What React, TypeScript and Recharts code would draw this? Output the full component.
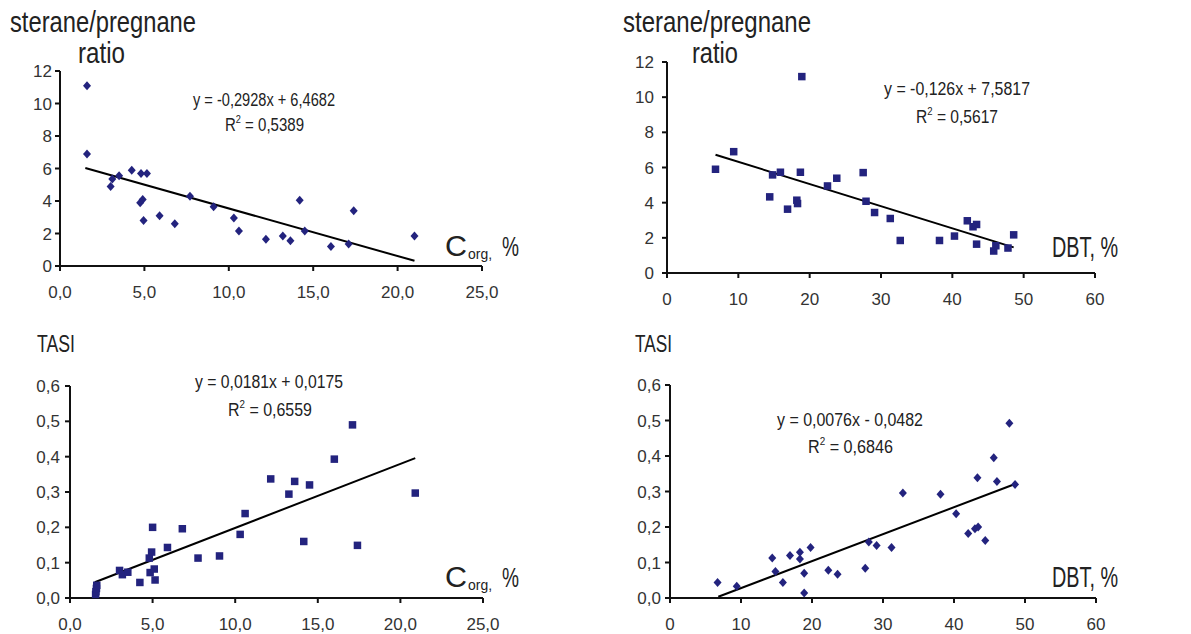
import React from 'react';
import { ScatterChart, Scatter, XAxis, YAxis, ReferenceLine } from 'recharts';

const markerColor = '#23237e';
const textColor = '#222';
const font = '"Liberation Sans", Arial, sans-serif';

// Corg, % vs sterane/pregnane ratio
const corgA: number[] = [1.6, 1.6, 3.0, 3.1, 3.5, 4.25, 4.8, 5.15, 4.75, 4.9, 4.95, 5.9, 6.8, 7.7, 9.1, 10.3, 10.6, 12.2, 13.2, 13.65, 14.2, 14.5, 16.05, 17.1, 17.4, 21.0];
const ratioA: number[] = [11.1, 6.9, 4.9, 5.35, 5.55, 5.9, 5.7, 5.7, 3.9, 4.1, 2.8, 3.1, 2.6, 4.3, 3.65, 2.95, 2.15, 1.65, 1.85, 1.55, 4.05, 2.15, 1.2, 1.35, 3.4, 1.85];

// DBT, % vs sterane/pregnane ratio
const dbtA: number[] = [6.8, 9.35, 14.4, 14.8, 15.9, 16.9, 18.2, 18.3, 18.7, 18.9, 22.5, 23.8, 27.5, 27.9, 29.1, 31.3, 32.7, 38.2, 40.3, 42.1, 42.9, 43.4, 43.4, 45.8, 46.1, 47.8, 48.6];
const ratioB: number[] = [5.9, 6.9, 4.33, 5.58, 5.73, 3.63, 4.14, 3.95, 5.73, 11.17, 4.95, 5.39, 5.71, 4.08, 3.44, 3.1, 1.85, 1.85, 2.1, 2.97, 2.63, 2.76, 1.64, 1.25, 1.55, 1.42, 2.17];

// Corg, % vs TASI
const corgB: number[] = [1.55, 1.57, 1.6, 1.62, 3.0, 3.17, 3.5, 4.23, 4.8, 4.94, 5.0, 4.85, 5.1, 5.15, 5.9, 6.8, 7.75, 9.05, 10.3, 10.6, 12.15, 13.25, 13.6, 14.15, 14.5, 16.0, 17.1, 17.4, 20.9];
const tasiA: number[] = [0.01, 0.018, 0.027, 0.036, 0.078, 0.066, 0.073, 0.044, 0.113, 0.13, 0.2, 0.072, 0.082, 0.051, 0.143, 0.196, 0.113, 0.119, 0.18, 0.239, 0.337, 0.294, 0.33, 0.16, 0.32, 0.393, 0.49, 0.149, 0.297];

// DBT, % vs TASI
const dbtB: number[] = [6.7, 9.4, 14.4, 14.85, 15.9, 16.9, 18.3, 18.3, 18.9, 18.9, 19.8, 22.3, 23.6, 27.5, 28.0, 29.1, 31.2, 32.8, 38.1, 40.3, 42.0, 42.95, 43.4, 43.3, 44.4, 45.6, 46.05, 47.8, 48.6];
const tasiB: number[] = [0.044, 0.033, 0.113, 0.075, 0.044, 0.12, 0.129, 0.11, 0.07, 0.014, 0.142, 0.078, 0.067, 0.084, 0.158, 0.148, 0.142, 0.296, 0.292, 0.237, 0.182, 0.195, 0.2, 0.339, 0.162, 0.395, 0.328, 0.492, 0.32];

// trend lines: [slope, intercept, xStart, xEnd]
const fitA = [-0.2928, 6.4682, 1.5, 21.0];
const fitB = [-0.126, 7.5817, 6.8, 48.6];
const fitC = [0.0181, 0.0175, 1.5, 20.9];
const fitD = [0.0076, -0.0482, 6.8, 48.6];

const ticksCorg = [0, 5, 10, 15, 20, 25];
const ticksDbt = [0, 10, 20, 30, 40, 50, 60];
const ticksRatio = [0, 2, 4, 6, 8, 10, 12];
const ticksTasi = [0, 0.1, 0.2, 0.3, 0.4, 0.5, 0.6];

const comma1 = (v: number) => v.toFixed(1).replace('.', ',');
const plain = (v: number) => String(v);

const toPoints = (xs: number[], ys: number[]) => xs.map((x, i) => ({ x, y: ys[i] }));

const Diamond = (props: any) => {
  const { cx, cy } = props;
  if (cx == null || cy == null) return null;
  const h = 4.5;
  const w = 4;
  return <polygon points={`${cx},${cy - h} ${cx + w},${cy} ${cx},${cy + h} ${cx - w},${cy}`} fill={markerColor} />;
};

const Square = (props: any) => {
  const { cx, cy } = props;
  if (cx == null || cy == null) return null;
  const s = 7.5;
  return <rect x={cx - s / 2} y={cy - s / 2} width={s} height={s} fill={markerColor} />;
};

interface PanelProps {
  left: number;
  top: number;
  width: number;
  height: number;
  margin: { top: number; right: number; bottom: number; left: number };
  xs: number[];
  ys: number[];
  fit: number[];
  xTicks: number[];
  yTicks: number[];
  xFmt: (v: number) => string;
  yFmt: (v: number) => string;
  yTickMargin: number;
  shape: any;
}

const Panel: React.FC<PanelProps> = (p) => {
  const [a, b, x0, x1] = p.fit;
  const tickStyle = { fontSize: 17, fill: '#333', fontFamily: font };
  const axisLine = { stroke: '#111', strokeWidth: 2 };
  return (
    <div style={{ position: 'absolute', left: p.left, top: p.top }}>
      <ScatterChart width={p.width} height={p.height} margin={p.margin}>
        <XAxis
          type="number"
          dataKey="x"
          domain={[p.xTicks[0], p.xTicks[p.xTicks.length - 1]]}
          ticks={p.xTicks}
          interval={0}
          tickFormatter={p.xFmt}
          tick={tickStyle}
          axisLine={axisLine}
          tickLine={axisLine}
          tickSize={5}
          tickMargin={15}
          height={30}
        />
        <YAxis
          type="number"
          dataKey="y"
          domain={[p.yTicks[0], p.yTicks[p.yTicks.length - 1]]}
          ticks={p.yTicks}
          interval={0}
          tickFormatter={p.yFmt}
          tick={tickStyle}
          axisLine={axisLine}
          tickLine={axisLine}
          tickSize={5}
          tickMargin={p.yTickMargin}
          width={40}
        />
        <Scatter data={toPoints(p.xs, p.ys)} shape={p.shape} isAnimationActive={false} />
        <ReferenceLine
          segment={[{ x: x0, y: a * x0 + b }, { x: x1, y: a * x1 + b }]}
          stroke="#000"
          strokeWidth={2}
        />
      </ScatterChart>
    </div>
  );
};

const Eq: React.FC<{ x: number; y: number; w: number; text: string }> = ({ x, y, w, text }) => (
  <text x={x} y={y} fontSize={18} fontFamily={font} fill={textColor} textLength={w} lengthAdjust="spacingAndGlyphs">
    {text}
  </text>
);

const R2: React.FC<{ x: number; y: number; w: number; value: string }> = ({ x, y, w, value }) => (
  <text x={x} y={y} fontSize={18} fontFamily={font} fill={textColor} textLength={w} lengthAdjust="spacingAndGlyphs">
    R<tspan fontSize={11} dy={-8}>2</tspan>
    <tspan dy={8}>{` = ${value}`}</tspan>
  </text>
);

const Corg: React.FC<{ y: number }> = ({ y }) => (
  <g fontFamily={font} fill={textColor}>
    <text x={445} y={y} fontSize={29} textLength={22} lengthAdjust="spacingAndGlyphs">C</text>
    <text x={468} y={y + 3} fontSize={14} textLength={24} lengthAdjust="spacingAndGlyphs">org,</text>
    <text x={502} y={y} fontSize={28} textLength={17} lengthAdjust="spacingAndGlyphs">%</text>
  </g>
);

const Dbt: React.FC<{ y: number }> = ({ y }) => (
  <text x={1052} y={y} fontSize={30} fontFamily={font} fill={textColor} textLength={66} lengthAdjust="spacingAndGlyphs">
    DBT, %
  </text>
);

const Title: React.FC<{ x: number; y: number; w: number; size: number; text: string }> = ({ x, y, w, size, text }) => (
  <text x={x} y={y} fontSize={size} fontFamily={font} fill={textColor} textLength={w} lengthAdjust="spacingAndGlyphs">
    {text}
  </text>
);

export default function App() {
  return (
    <div style={{ position: 'absolute', left: 0, top: 0, width: 1191, height: 634, background: '#fff' }}>
      <Panel
        left={0} top={0} width={600} height={320}
        margin={{ top: 71, right: 118, bottom: 24, left: 20 }}
        xs={corgA} ys={ratioA} fit={fitA}
        xTicks={ticksCorg} yTicks={ticksRatio}
        xFmt={comma1} yFmt={plain} yTickMargin={3}
        shape={Diamond}
      />
      <Panel
        left={600} top={0} width={591} height={320}
        margin={{ top: 62, right: 96, bottom: 17, left: 27 }}
        xs={dbtA} ys={ratioB} fit={fitB}
        xTicks={ticksDbt} yTicks={ticksRatio}
        xFmt={plain} yFmt={plain} yTickMargin={8}
        shape={Square}
      />
      <Panel
        left={0} top={320} width={600} height={314}
        margin={{ top: 66, right: 117, bottom: 6, left: 30 }}
        xs={corgB} ys={tasiA} fit={fitC}
        xTicks={ticksCorg} yTicks={ticksTasi}
        xFmt={comma1} yFmt={comma1} yTickMargin={5}
        shape={Square}
      />
      <Panel
        left={600} top={320} width={591} height={314}
        margin={{ top: 65, right: 95, bottom: 6, left: 30 }}
        xs={dbtB} ys={tasiB} fit={fitD}
        xTicks={ticksDbt} yTicks={ticksTasi}
        xFmt={plain} yFmt={comma1} yTickMargin={4}
        shape={Diamond}
      />
      <svg width={1191} height={634} style={{ position: 'absolute', left: 0, top: 0, pointerEvents: 'none' }}>
        <Title x={10} y={32} w={186} size={29} text="sterane/pregnane" />
        <Title x={78} y={63} w={47} size={29} text="ratio" />
        <Title x={623} y={32} w={188} size={29} text="sterane/pregnane" />
        <Title x={692} y={63} w={46} size={29} text="ratio" />
        <Title x={37} y={352} w={38} size={23} text="TASI" />
        <Title x={635} y={352} w={37} size={23} text="TASI" />

        <Eq x={193} y={106} w={142} text="y = -0,2928x + 6,4682" />
        <R2 x={225} y={131} w={79} value="0,5389" />
        <Eq x={884} y={95} w={146} text="y = -0,126x + 7,5817" />
        <R2 x={916} y={123} w={82} value="0,5617" />
        <Eq x={195} y={388} w={148} text="y = 0,0181x + 0,0175" />
        <R2 x={228} y={416} w={84} value="0,6559" />
        <Eq x={777} y={426} w={146} text="y = 0,0076x - 0,0482" />
        <R2 x={808} y={453} w={85} value="0,6846" />

        <Corg y={256} />
        <Corg y={587} />
        <Dbt y={257} />
        <Dbt y={587} />
      </svg>
    </div>
  );
}
